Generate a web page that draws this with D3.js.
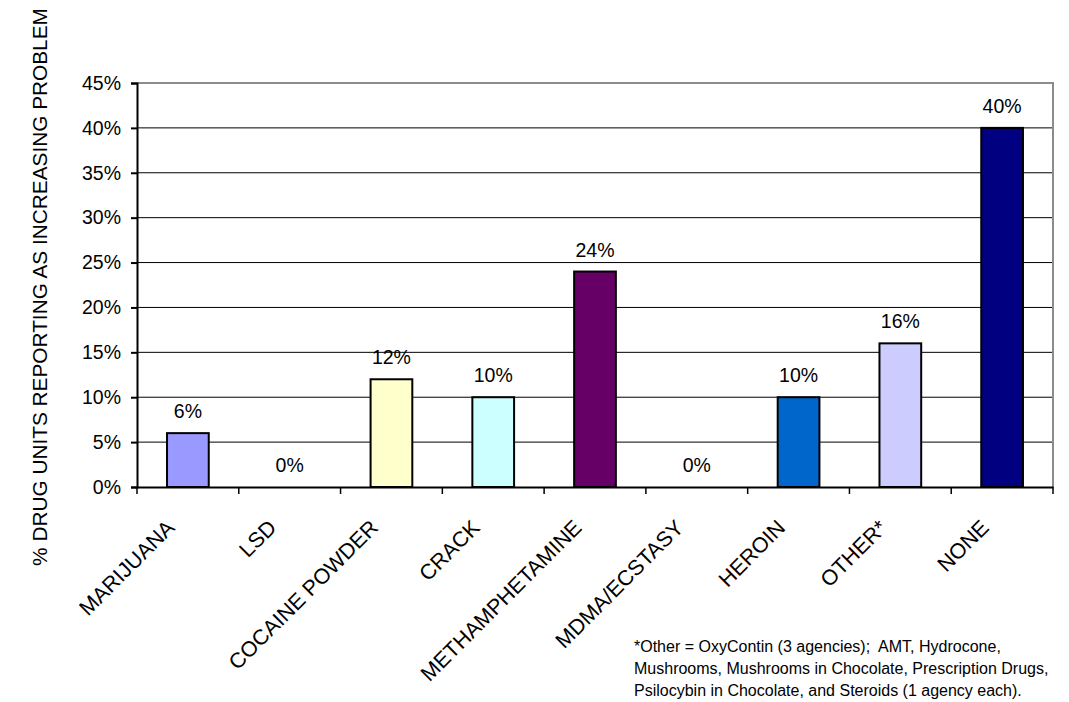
<!DOCTYPE html>
<html>
<head>
<meta charset="utf-8">
<script src="https://cdn.jsdelivr.net/npm/d3@7"></script>
<style>
  body { margin: 0; background: #fff; }
  text { font-family: "Liberation Sans", Arial, sans-serif; fill: #000; }
</style>
</head>
<body>
<svg id="chart" width="1069" height="702"></svg>
<script>
const categories = ["MARIJUANA", "LSD", "COCAINE POWDER", "CRACK", "METHAMPHETAMINE",
  "MDMA/ECSTASY", "HEROIN", "OTHER*", "NONE"];
const values = [6, 0, 12, 10, 24, 0, 10, 16, 40];
const colors = ["#9999FF", "#FFFFFF", "#FFFFCC", "#CCFFFF", "#660066",
  "#FFFFFF", "#0066CC", "#CCCCFF", "#000080"];
const yTicks = [0, 5, 10, 15, 20, 25, 30, 35, 40, 45];
const footnote = [
  "*Other = OxyContin (3 agencies);  AMT, Hydrocone,",
  "Mushrooms, Mushrooms in Chocolate, Prescription Drugs,",
  "Psilocybin in Chocolate, and Steroids (1 agency each)."
];
const yTitle = "% DRUG UNITS REPORTING AS INCREASING PROBLEM";

const plot = { left: 137, right: 1053, top: 83, bottom: 487 };
const svg = d3.select("#chart");

const x = d3.scaleBand().domain(categories).range([plot.left, plot.right]).padding(0);
const y = d3.scaleLinear().domain([0, 45]).range([plot.bottom, plot.top]);
const barW = x.bandwidth() * 0.41;

// grid lines
svg.append("g")
  .selectAll("line")
  .data(yTicks.slice(1, -1))
  .join("line")
  .attr("x1", plot.left)
  .attr("x2", plot.right)
  .attr("y1", (d) => y(d))
  .attr("y2", (d) => y(d))
  .attr("stroke", "#000")
  .attr("stroke-width", 1);

// plot border (top/right grey)
svg.append("path")
  .attr("d", `M${plot.left},${plot.top}H${plot.right}V${plot.bottom}`)
  .attr("fill", "none")
  .attr("stroke", "#8c8c8c")
  .attr("stroke-width", 2);

// bars
svg.append("g")
  .selectAll("rect")
  .data(values)
  .join("rect")
  .attr("x", (d, i) => x(categories[i]) + (x.bandwidth() - barW) / 2)
  .attr("y", (d) => y(d))
  .attr("width", barW)
  .attr("height", (d) => y(0) - y(d))
  .attr("fill", (d, i) => colors[i])
  .attr("stroke", (d) => (d > 0 ? "#000" : "none"))
  .attr("stroke-width", 2);

// value labels
svg.append("g")
  .selectAll("text")
  .data(values)
  .join("text")
  .attr("x", (d, i) => x(categories[i]) + x.bandwidth() / 2)
  .attr("y", (d) => y(d) - 15)
  .attr("text-anchor", "middle")
  .style("font-size", "19.5px")
  .text((d) => d + "%");

// y axis
const yAxis = svg.append("g")
  .attr("transform", `translate(${plot.left},0)`)
  .call(d3.axisLeft(y).tickValues(yTicks).tickSize(6).tickPadding(10)
    .tickFormat((d) => d + "%"));
yAxis.selectAll("path, line").attr("stroke", "#000").attr("stroke-width", 2);
yAxis.selectAll("text").style("font-size", "19.5px").attr("font-family", null);

// x axis
const xAxis = svg.append("g")
  .attr("transform", `translate(0,${plot.bottom})`)
  .call(d3.axisBottom(x).tickSize(0).tickFormat(""));
xAxis.select(".domain").attr("stroke", "#000").attr("stroke-width", 2);
xAxis.selectAll(".tick").remove();

const edges = d3.range(categories.length + 1).map((i) => plot.left + i * x.step());
svg.append("g")
  .selectAll("line")
  .data(edges)
  .join("line")
  .attr("x1", (d) => d)
  .attr("x2", (d) => d)
  .attr("y1", plot.bottom)
  .attr("y2", plot.bottom + 7)
  .attr("stroke", "#000")
  .attr("stroke-width", 1.5);

// category labels
svg.append("g")
  .selectAll("text")
  .data(categories)
  .join("text")
  .attr("transform", (d) =>
    `translate(${x(d) + x.bandwidth() / 2 - 12},${plot.bottom + 42}) rotate(-45)`)
  .attr("text-anchor", "end")
  .style("font-size", "21.5px")
  .text((d) => d);

// y title
svg.append("text")
  .attr("transform", "translate(47,287) rotate(-90)")
  .attr("text-anchor", "middle")
  .style("font-size", "20.8px")
  .text(yTitle);

// footnote
svg.append("g")
  .selectAll("text")
  .data(footnote)
  .join("text")
  .attr("x", 634)
  .attr("y", (d, i) => 652 + i * 22)
  .style("font-size", "16px")
  .style("white-space", "pre")
  .text((d) => d);
</script>
</body>
</html>
